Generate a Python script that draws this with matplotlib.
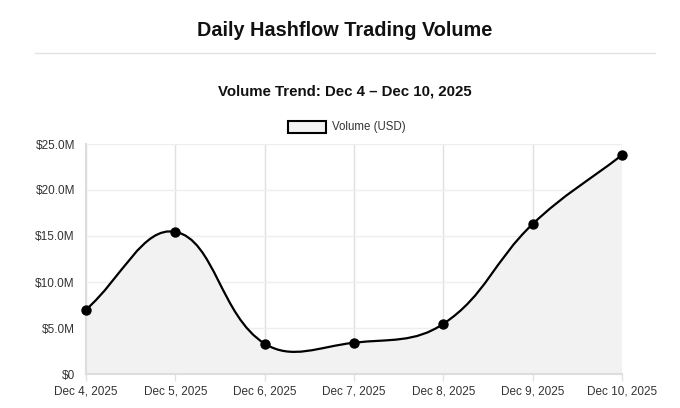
import numpy as np
import matplotlib
matplotlib.use("Agg")
import matplotlib.pyplot as plt
from matplotlib.path import Path
from matplotlib.patches import PathPatch, Rectangle
from matplotlib.lines import Line2D

plt.rcParams["font.family"] = ["Liberation Sans", "DejaVu Sans"]

DATES = ["Dec 4, 2025", "Dec 5, 2025", "Dec 6, 2025", "Dec 7, 2025",
         "Dec 8, 2025", "Dec 9, 2025", "Dec 10, 2025"]
VOLUME_M = [7.0, 15.45, 3.3, 3.4, 5.45, 16.3, 23.8]
Y_TICKS = [0, 5, 10, 15, 20, 25]
Y_TICK_LABELS = ["$0", "$5.0M", "$10.0M", "$15.0M", "$20.0M", "$25.0M"]

W, H = 680, 408
L, R, B, T = 86, 622, 34, 264  # plot area in pixels (from bottom)
TENSION = 0.4
CX = 345 / W  # header centre


def spline_controls(xs, ys, sx, sy):
    # chart.js style spline, distances measured in pixels
    px = np.asarray(xs, float) * sx
    py = np.asarray(ys, float) * sy
    n = len(px)
    prev_c, next_c = [], []
    for i in range(n):
        p0 = (px[max(i - 1, 0)], py[max(i - 1, 0)])
        p1 = (px[i], py[i])
        p2 = (px[min(i + 1, n - 1)], py[min(i + 1, n - 1)])
        d01 = np.hypot(p1[0] - p0[0], p1[1] - p0[1])
        d12 = np.hypot(p2[0] - p1[0], p2[1] - p1[1])
        s01 = d01 / (d01 + d12) if d01 + d12 else 0
        s12 = d12 / (d01 + d12) if d01 + d12 else 0
        fa, fb = TENSION * s01, TENSION * s12
        prev_c.append(((p1[0] - fa * (p2[0] - p0[0])) / sx, (p1[1] - fa * (p2[1] - p0[1])) / sy))
        next_c.append(((p1[0] + fb * (p2[0] - p0[0])) / sx, (p1[1] + fb * (p2[1] - p0[1])) / sy))
    return prev_c, next_c


fig = plt.figure(figsize=(W / 100, H / 100), dpi=100)
fig.patch.set_facecolor("white")
ax = fig.add_axes([L / W, B / H, (R - L) / W, (T - B) / H])

x = np.arange(len(DATES))
ax.set_xlim(0, len(DATES) - 1)
ax.set_ylim(0, 25)

sx = (R - L) / (len(DATES) - 1)
sy = (T - B) / 25
prev_c, next_c = spline_controls(x, VOLUME_M, sx, sy)

verts = [(x[0], VOLUME_M[0])]
codes = [Path.MOVETO]
for i in range(len(x) - 1):
    c1 = (next_c[i][0], np.clip(next_c[i][1], 0, 25))
    c2 = (prev_c[i + 1][0], np.clip(prev_c[i + 1][1], 0, 25))
    verts += [c1, c2, (x[i + 1], VOLUME_M[i + 1])]
    codes += [Path.CURVE4] * 3

line_path = Path(verts, codes)
fill_path = Path(verts + [(x[-1], 0), (x[0], 0), (x[0], VOLUME_M[0])],
                 codes + [Path.LINETO, Path.LINETO, Path.CLOSEPOLY])
ax.add_patch(PathPatch(fill_path, facecolor="#f2f2f2", edgecolor="none", zorder=1))
ax.add_patch(PathPatch(line_path, facecolor="none", edgecolor="black", lw=1.6, zorder=3))
ax.scatter(x, VOLUME_M, s=42, color="black", zorder=4, clip_on=False)

ax.set_xticks(x)
ax.set_xticklabels(DATES)
ax.set_yticks(Y_TICKS)
ax.set_yticklabels(Y_TICK_LABELS)
ax.tick_params(axis="both", labelsize=8.5, colors="#333333", length=5, width=1)
ax.tick_params(axis="x", color="#e2e2e2")
ax.tick_params(axis="y", length=0, pad=8)
ax.grid(True, axis="x", color="#e0e0e0", lw=1)
ax.grid(True, axis="y", color="#eeeeee", lw=1)
ax.set_axisbelow(True)
for side in ["top", "right"]:
    ax.spines[side].set_visible(False)
for side in ["left", "bottom"]:
    ax.spines[side].set_color("#dddddd")
    ax.spines[side].set_linewidth(1.5)

# header
fig.text(CX, 1 - 30 / H, "Daily Hashflow Trading Volume", ha="center", va="center",
         fontsize=14.3, fontweight="bold", color="#111111")
fig.add_artist(Line2D([35 / W, 655 / W], [1 - 52.5 / H] * 2, color="#e3e3e3", lw=1))
fig.text(CX, 1 - 91 / H, "Volume Trend: Dec 4 \u2013 Dec 10, 2025", ha="center", va="center",
         fontsize=10.8, fontweight="bold", color="#111111")
fig.add_artist(Rectangle((288 / W, 1 - 133 / H), 38 / W, 12 / H, transform=fig.transFigure,
                         facecolor="#f2f2f2", edgecolor="black", lw=1.5))
fig.text(332 / W, 1 - 127 / H, "Volume (USD)", ha="left", va="center",
         fontsize=8.3, color="#333333")

fig.savefig("out.png", dpi=100, facecolor="white")
